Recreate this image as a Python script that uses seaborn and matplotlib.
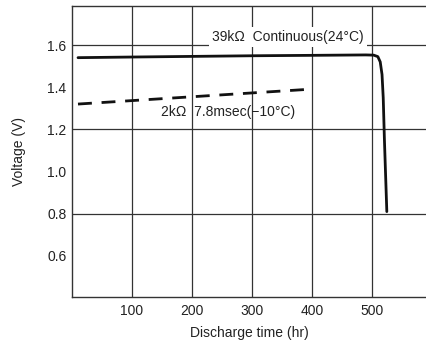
import numpy as np
import pandas as pd
import matplotlib
matplotlib.use("Agg")
import matplotlib.pyplot as plt
import seaborn as sns

# Data
cont_time = [10, 100, 200, 300, 400, 490, 503, 510, 514, 517, 519, 521, 523, 525]
cont_volt = [1.540, 1.543, 1.546, 1.549, 1.551, 1.553, 1.552, 1.545, 1.52, 1.46, 1.35, 1.15, 0.98, 0.81]
pulse_time = [10, 395]
pulse_volt = [1.32, 1.39]
x_ticks = [100, 200, 300, 400, 500]
y_ticks = [0.6, 0.8, 1.0, 1.2, 1.4, 1.6]
grid_y = [0.8, 1.2, 1.6]
label_cont = "39kΩ  Continuous(24°C)"
label_pulse = "2kΩ  7.8msec(\u221210°C)"

sns.set_theme(style="white")
plt.rcParams['font.family'] = ['Liberation Sans', 'DejaVu Sans']

df_c = pd.DataFrame({"t": cont_time, "v": cont_volt})
df_p = pd.DataFrame({"t": pulse_time, "v": pulse_volt})

fig = plt.figure(figsize=(4.27, 3.45), dpi=100)
ax = fig.add_axes([72/427, 48/345, 1 - 72/427, 291/345])

ax.set_xlim(0, 592)
ax.set_ylim(0.405, 1.785)

for gx in x_ticks:
    ax.axvline(gx, color="#333333", lw=0.9, zorder=1)
for gy in grid_y:
    ax.axhline(gy, color="#333333", lw=0.9, zorder=1)

sns.lineplot(data=df_c, x="t", y="v", ax=ax, color="#111111", lw=2.0,
             sort=False, estimator=None, zorder=3)
sns.lineplot(data=df_p, x="t", y="v", ax=ax, color="#111111", lw=2.0,
             sort=False, estimator=None, zorder=3, dashes=False,
             linestyle=(0, (5, 3.5)))

ax.text(360, 1.638, label_cont, ha="center", va="center", fontsize=10,
        color="#222222", zorder=4,
        bbox=dict(facecolor="white", edgecolor="none", pad=2.5))
ax.text(261, 1.282, label_pulse, ha="center", va="center", fontsize=10,
        color="#222222", zorder=4)

ax.set_xticks(x_ticks)
ax.set_yticks(y_ticks)
ax.set_yticklabels([f"{v:.1f}" for v in y_ticks])
ax.tick_params(axis="x", length=0, labelsize=10, colors="#222222", pad=5)
ax.tick_params(axis="y", length=0, labelsize=10, colors="#222222", pad=4)
ax.set_xlabel("Discharge time (hr)", fontsize=10, color="#222222", labelpad=6)
ax.set_ylabel("Voltage (V)", fontsize=10, color="#222222", labelpad=15)

for s in ["left", "bottom", "top"]:
    ax.spines[s].set_visible(True)
    ax.spines[s].set_color("#333333")
    ax.spines[s].set_linewidth(1.0)
ax.spines["right"].set_visible(False)

fig.savefig("out.png", dpi=100)
